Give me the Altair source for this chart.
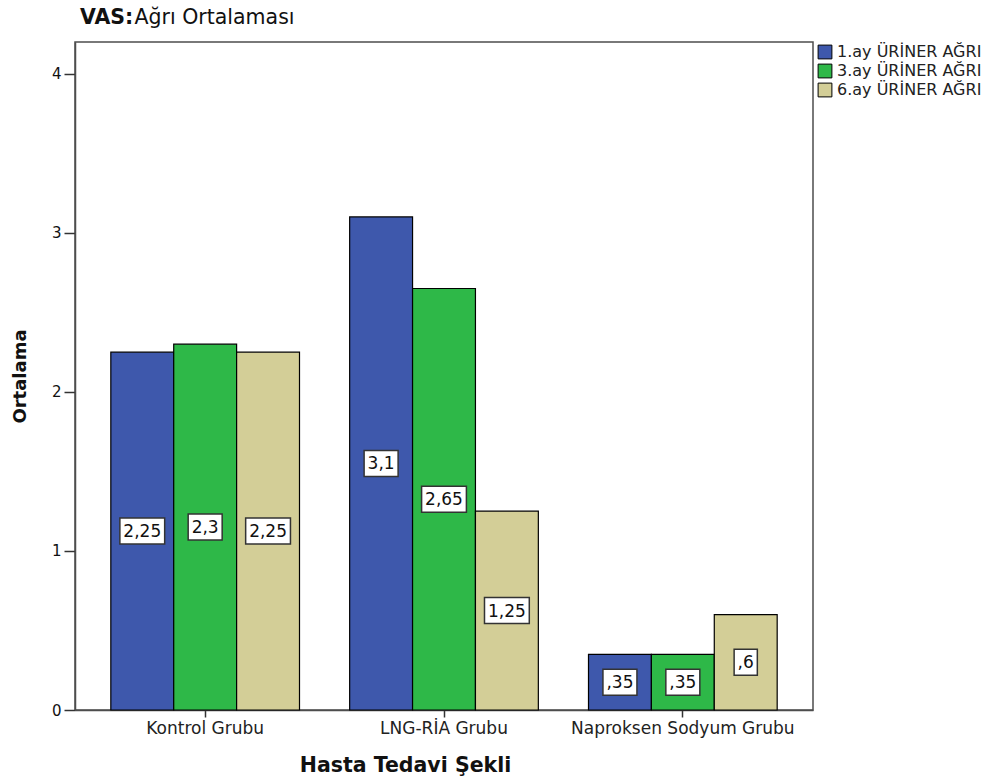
import altair as alt
import pandas as pd

# Treatment groups, follow-up series and mean VAS pain scores
groups = ["Kontrol Grubu", "LNG-RİA Grubu", "Naproksen Sodyum Grubu"]
series = ["1.ay ÜRİNER AĞRI", "3.ay ÜRİNER AĞRI", "6.ay ÜRİNER AĞRI"]
month1 = [2.25, 3.1, 0.35]
month3 = [2.3, 2.65, 0.35]
month6 = [2.25, 1.25, 0.6]
colors = ["#3E58AC", "#2EB848", "#D3CE97"]

FONT = "DejaVu Sans"
LABEL_SIZE = 17
# approximate glyph advance widths (em) for the value labels
ADV = {",": 0.318}


def tr_label(v):
    """Turkish-style number: decimal comma, no leading zero."""
    s = f"{v:g}".replace(".", ",")
    return s[1:] if s.startswith("0,") else s


def box_path(text):
    w = sum(ADV.get(c, 0.636) for c in text) * LABEL_SIZE
    hw = w / 2 + 3.5
    hh = 13
    return f"M{-hw:.1f},{-hh}H{hw:.1f}V{hh}H{-hw:.1f}Z"


rows = []
for i, g in enumerate(groups):
    for s, vals in zip(series, [month1, month3, month6]):
        v = vals[i]
        lab = tr_label(v)
        rows.append({"group": g, "series": s, "value": v, "label": lab, "box": box_path(lab)})
df = pd.DataFrame(rows)

x_enc = alt.X(
    "group:N",
    sort=groups,
    scale=alt.Scale(paddingInner=0.21, paddingOuter=0.15),
    axis=alt.Axis(
        title="Hasta Tedavi Şekli",
        labelAngle=0,
        labelLimit=0,
        labelFont=FONT,
        labelFontSize=17,
        labelColor="#222",
        labelPadding=3,
        tickSize=7,
        tickColor="#333",
        tickWidth=1.5,
        domainColor="#4d4d4d",
        domainWidth=1.5,
        titleFont=FONT,
        titleFontSize=20.5,
        titleFontWeight="bold",
        titleColor="#111",
        titleX=330,
        titleY=55,
        titleBaseline="middle",
        titleAlign="center",
    ),
)
xo_enc = alt.XOffset("series:N", sort=series, scale=alt.Scale(paddingInner=0, paddingOuter=0))
y_scale = alt.Scale(domain=[0, 4.2], nice=False, zero=True)

bars = alt.Chart(df).mark_bar(stroke="black", strokeWidth=1.2).encode(
    x=x_enc,
    xOffset=xo_enc,
    y=alt.Y(
        "value:Q",
        scale=y_scale,
        title="Ortalama",
        axis=alt.Axis(
            values=[0, 1, 2, 3, 4],
            format="d",
            grid=False,
            labelFont=FONT,
            labelFontSize=15,
            labelColor="#111",
            labelPadding=3,
            tickSize=11,
            tickColor="#333",
            tickWidth=1.5,
            domainColor="#4d4d4d",
            domainWidth=1.5,
            titleFont=FONT,
            titleFontSize=18,
            titleFontWeight="bold",
            titleColor="#111",
            titleX=-55,
            titleBaseline="middle",
        ),
    ),
    color=alt.Color(
        "series:N",
        sort=series,
        scale=alt.Scale(domain=series, range=colors),
        legend=alt.Legend(
            title=None,
            orient="none",
            legendX=742,
            legendY=2,
            symbolType="square",
            symbolSize=190,
            symbolStrokeColor="black",
            symbolStrokeWidth=1,
            symbolOpacity=1,
            labelFont=FONT,
            labelFontSize=16,
            labelColor="#222",
            labelOffset=4,
            labelLimit=0,
            rowPadding=1,
        ),
    ),
)

label_base = alt.Chart(df).transform_calculate(half="datum.value / 2")

boxes = label_base.mark_point(
    filled=True, fill="white", stroke="#333", strokeWidth=1.5, size=4, opacity=1
).encode(
    x=x_enc,
    xOffset=xo_enc,
    y=alt.Y("half:Q", scale=y_scale, title="Ortalama"),
    shape=alt.Shape("box:N", scale=None),
)

texts = label_base.mark_text(
    font=FONT, fontSize=LABEL_SIZE, color="#111", baseline="middle", align="center", dy=1
).encode(
    x=x_enc,
    xOffset=xo_enc,
    y=alt.Y("half:Q", scale=y_scale, title="Ortalama"),
    text="label:N",
)

title_bold = alt.Chart(pd.DataFrame({"t": ["VAS:"]})).mark_text(
    font=FONT, fontSize=20.5, fontWeight="bold", align="left", baseline="alphabetic", color="#111"
).encode(x=alt.value(5), y=alt.value(-18), text="t:N")

title_rest = alt.Chart(pd.DataFrame({"t": ["Ağrı Ortalaması"]})).mark_text(
    font=FONT, fontSize=20.5, align="left", baseline="alphabetic", color="#111"
).encode(x=alt.value(59.5), y=alt.value(-18), text="t:N")

chart = (
    alt.layer(bars, boxes, texts, title_bold, title_rest)
    .properties(
        width=738,
        height=668,
        autosize=alt.AutoSizeParams(type="none"),
        padding={"left": 75, "top": 42, "right": 189, "bottom": 72},
        background="white",
    )
    .configure_view(stroke="#4d4d4d", strokeWidth=1.5)
)

chart.save("out.html", embed_options={"renderer": "svg", "actions": False})
